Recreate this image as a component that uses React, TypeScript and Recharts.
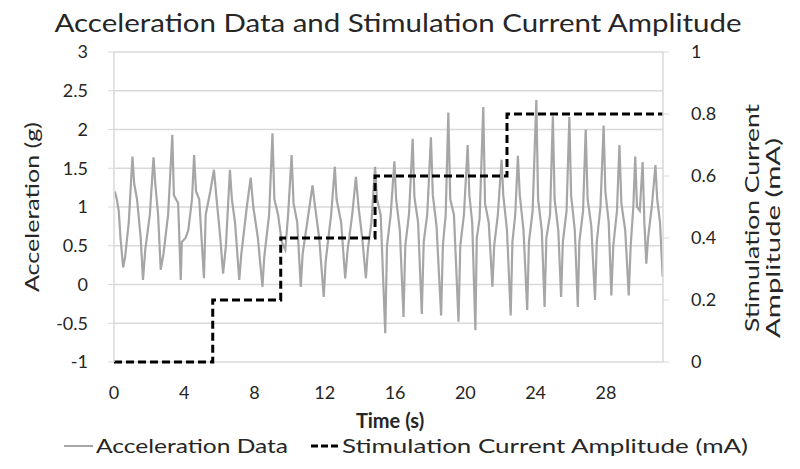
import React from "react";
import {
  LineChart,
  Line,
  XAxis,
  YAxis,
  CartesianGrid,
} from "recharts";

// acceleration trace (time in s, value in g)
const accelTime = [
  0.05, 0.16, 0.27, 0.37, 0.52, 0.63, 0.84, 1.05, 1.15, 1.31, 1.52, 1.65,
  1.78, 2.04, 2.25, 2.35, 2.51, 2.66, 2.82, 3.08, 3.32, 3.41, 3.65, 3.8, 3.86,
  4.07, 4.23, 4.44, 4.56, 4.67, 4.85, 5.12, 5.22, 5.48, 5.69, 5.84, 6.05,
  6.21, 6.37, 6.6, 6.71, 6.89, 7.13, 7.25, 7.56, 7.78, 7.93, 8.19, 8.45,
  8.55, 8.83, 9.02, 9.13, 9.34, 9.55, 9.75, 9.91, 10.11, 10.22, 10.43, 10.63,
  10.74, 11.06, 11.3, 11.42, 11.68, 11.94, 12.05, 12.36, 12.57, 12.67, 12.93,
  13.16, 13.3, 13.56, 13.77, 13.92, 14.13, 14.34, 14.45, 14.65, 14.86, 14.97,
  15.18, 15.44, 15.54, 15.75, 15.96, 16.06, 16.27, 16.48, 16.58, 16.79, 17.0,
  17.1, 17.31, 17.52, 17.63, 17.83, 18.04, 18.15, 18.36, 18.62, 18.72, 18.88,
  19.03, 19.14, 19.35, 19.61, 19.71, 19.92, 20.13, 20.23, 20.39, 20.57,
  20.65, 20.81, 21.02, 21.12, 21.33, 21.54, 21.64, 21.85, 22.06, 22.16,
  22.37, 22.58, 22.68, 22.84, 22.99, 23.1, 23.31, 23.52, 23.62, 23.83, 24.04,
  24.14, 24.35, 24.51, 24.61, 24.82, 24.98, 25.08, 25.29, 25.45, 25.55,
  25.76, 25.92, 26.02, 26.23, 26.4, 26.49, 26.7, 26.85, 26.96, 27.17, 27.38,
  27.48, 27.69, 27.87, 27.97, 28.16, 28.31, 28.42, 28.63, 28.77, 28.88,
  29.1, 29.3, 29.41, 29.56, 29.67, 29.77, 29.93, 30.09, 30.19, 30.3, 30.4,
  30.61, 30.82, 30.92, 31.08, 31.23,
];
const accelG = [
  1.2, 1.1, 0.95, 0.6, 0.22, 0.35, 0.8, 1.65, 1.3, 1.1, 0.6, 0.06, 0.45, 0.9,
  1.64, 1.3, 0.9, 0.19, 0.4, 0.9, 1.93, 1.15, 1.05, 0.06, 0.55, 0.6, 0.7,
  1.1, 1.67, 1.2, 1.1, 0.08, 0.9, 1.2, 1.48, 1.1, 0.6, 0.14, 0.5, 1.48, 1.1,
  0.8, 0.06, 0.4, 1.0, 1.38, 1.0, 0.6, -0.03, 0.35, 0.9, 1.95, 1.1, 0.9, 0.55,
  0.45, 0.9, 1.67, 1.05, 0.8, -0.03, 0.4, 0.9, 1.28, 1.05, 0.6, -0.16, 0.3,
  0.9, 1.52, 1.1, 0.8, 0.08, 0.45, 0.9, 1.39, 1.0, 0.6, 0.08, 0.45, 0.8,
  1.52, 1.1, 0.9, -0.63, 0.5, 0.9, 1.59, 1.1, 0.7, -0.42, 0.5, 0.9, 1.88,
  1.13, 0.8, -0.38, 0.55, 0.9, 1.9, 1.15, 0.75, -0.4, 0.5, 0.9, 2.22, 1.1,
  0.9, -0.48, 0.5, 0.9, 1.8, 1.15, 0.8, -0.59, 0.6, 0.85, 2.29, 1.05, 0.8,
  -0.03, 0.5, 0.9, 1.61, 1.15, 0.7, -0.4, 0.55, 0.9, 1.66, 1.15, 0.7, -0.33,
  0.55, 0.95, 2.38, 1.1, 0.7, -0.29, 0.6, 0.9, 2.17, 1.1, 0.7, -0.16, 0.55,
  0.95, 2.16, 1.15, 0.7, -0.29, 0.55, 0.95, 2.0, 1.1, 0.75, -0.2, 0.55, 1.0,
  2.05, 1.2, 0.8, -0.14, 0.5, 0.95, 1.8, 1.05, 0.7, -0.14, 0.5, 1.0, 1.65,
  1.0, 0.95, 1.58, 0.8, 0.27, 0.6, 1.0, 1.54, 1.1, 0.8, 0.1,
];

// stimulation current steps (time in s, amplitude in mA)
const stimTime = [0, 5.62, 9.49, 14.86, 22.37, 31.25];
const stimAmp = [0, 0.2, 0.4, 0.6, 0.8, 0.8];

const timeTicks = [0, 4, 8, 12, 16, 20, 24, 28];
const accelTicks = [-1, -0.5, 0, 0.5, 1, 1.5, 2, 2.5, 3];
const currentTicks = [0, 0.2, 0.4, 0.6, 0.8, 1];

const accelData = accelTime.map((t, i) => ({ t, accel: accelG[i] }));
const stimData = stimTime.map((t, i) => ({ t, stim: stimAmp[i] }));

const FONT = "Lato, 'Open Sans', sans-serif";
const GRID = "#d9d9d9";
const TEXT = "#262626";

export default function App() {
  return (
    <div style={{ position: "absolute", left: 0, top: 0, fontFamily: FONT }}>
      <LineChart
        width={800}
        height={469}
        margin={{ top: 52, right: 77, left: 54, bottom: 77 }}
      >
        <CartesianGrid
          yAxisId="left"
          vertical={false}
          stroke={GRID}
          strokeWidth={1.5}
        />
        <XAxis
          type="number"
          dataKey="t"
          domain={[0, 31.25]}
          ticks={timeTicks}
          allowDataOverflow
          height={30}
          axisLine={false}
          tickLine={false}
          tickSize={0}
          tickMargin={24}
          tick={{ fill: TEXT, fontSize: 18, fontFamily: FONT }}
        />
        <YAxis
          yAxisId="left"
          orientation="left"
          domain={[-1, 3]}
          ticks={accelTicks}
          width={60}
          axisLine={{ stroke: GRID, strokeWidth: 1.5 }}
          tickLine={{ stroke: GRID }}
          tickSize={6}
          tickMargin={20}
          tick={{ fill: TEXT, fontSize: 18, fontFamily: FONT }}
        />
        <YAxis
          yAxisId="right"
          orientation="right"
          domain={[0, 1]}
          ticks={currentTicks}
          width={60}
          axisLine={{ stroke: GRID, strokeWidth: 1.5 }}
          tickLine={{ stroke: GRID }}
          tickSize={6}
          tickMargin={22}
          tick={{ fill: TEXT, fontSize: 18, fontFamily: FONT }}
        />
        <Line
          yAxisId="left"
          data={accelData}
          dataKey="accel"
          type="linear"
          stroke="#a6a6a6"
          strokeWidth={2.2}
          dot={false}
          isAnimationActive={false}
        />
        <Line
          yAxisId="right"
          data={stimData}
          dataKey="stim"
          type="stepAfter"
          stroke="#000"
          strokeWidth={3}
          strokeDasharray="8 4"
          dot={false}
          isAnimationActive={false}
        />

        <text
          x={398}
          y={32}
          textAnchor="middle"
          fontSize={25}
          fill={TEXT}
          fontFamily={FONT}
          textLength={687}
          lengthAdjust="spacingAndGlyphs"
        >
          Acceleration Data and Stimulation Current Amplitude
        </text>
        <text
          x={390}
          y={428}
          textAnchor="middle"
          fontSize={20}
          fontWeight="bold"
          fill={TEXT}
          fontFamily={FONT}
        >
          Time (s)
        </text>
        <text
          transform="rotate(-90, 39, 207)"
          x={39}
          y={207}
          textAnchor="middle"
          fontSize={20}
          fill={TEXT}
          fontFamily={FONT}
          textLength={170}
          lengthAdjust="spacingAndGlyphs"
        >
          Acceleration (g)
        </text>
        <text
          transform="rotate(-90, 759, 218)"
          x={759}
          y={218}
          textAnchor="middle"
          fontSize={20}
          fill={TEXT}
          fontFamily={FONT}
          textLength={228}
          lengthAdjust="spacingAndGlyphs"
        >
          Stimulation  Current
        </text>
        <text
          transform="rotate(-90, 780, 238)"
          x={780}
          y={238}
          textAnchor="middle"
          fontSize={20}
          fill={TEXT}
          fontFamily={FONT}
          textLength={200}
          lengthAdjust="spacingAndGlyphs"
        >
          Amplitude (mA)
        </text>

        <line x1={64} y1={446} x2={93} y2={446} stroke="#a6a6a6" strokeWidth={2} />
        <text
          x={96}
          y={453}
          fontSize={20}
          fill={TEXT}
          fontFamily={FONT}
          textLength={192}
          lengthAdjust="spacingAndGlyphs"
        >
          Acceleration Data
        </text>
        <line
          x1={311}
          y1={446}
          x2={340}
          y2={446}
          stroke="#000"
          strokeWidth={3}
          strokeDasharray="7 3"
        />
        <text
          x={342}
          y={453}
          fontSize={20}
          fill={TEXT}
          fontFamily={FONT}
          textLength={406}
          lengthAdjust="spacingAndGlyphs"
        >
          Stimulation Current Amplitude (mA)
        </text>
      </LineChart>
    </div>
  );
}
